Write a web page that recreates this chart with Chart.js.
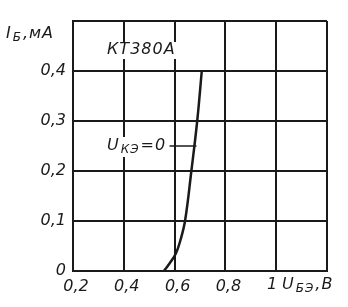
<!DOCTYPE html>
<html>
<head>
<meta charset="utf-8">
<script src="https://cdn.jsdelivr.net/npm/chart.js@4.4.0/dist/chart.umd.min.js"></script>
<style>
  html, body { margin: 0; padding: 0; background: #fff; }
  #wrap { width: 348px; height: 307px; }
</style>
</head>
<body>
<div id="wrap"><canvas id="c" width="348" height="307"></canvas></div>
<script>
// input characteristic of KT380A, U_КЭ = 0
const uBE = [0.558, 0.58, 0.605, 0.622, 0.641, 0.666, 0.689, 0.707];   // U_БЭ, V
const iB  = [0,     0.015, 0.035, 0.06,  0.1,   0.2,   0.3,   0.4];     // I_Б, mA
const xTicks = [0.2, 0.4, 0.6, 0.8, 1.0, 1.2];
const xLabels = ['0,2', '0,4', '0,6', '0,8', '1', ''];
const yTicks = [0, 0.1, 0.2, 0.3, 0.4, 0.5];
const yLabels = ['0', '0,1', '0,2', '0,3', '0,4', ''];
const markerX = [0.58, 0.686];  // the short leader from the "U_КЭ=0" note to the curve
const markerY = [0.25, 0.25];

const FONT = "'DejaVu Sans', 'Liberation Sans', sans-serif";
const INK = '#1a1a1a';

// text with a subscript: main, sub, rest
function subText(ctx, x, y, main, sub, rest, size) {
  ctx.font = `italic ${size}px ${FONT}`;
  ctx.fillText(main, x, y); x += ctx.measureText(main).width + 1;
  ctx.font = `italic ${Math.round(size * 0.78)}px ${FONT}`;
  ctx.fillText(sub, x, y + 4); x += ctx.measureText(sub).width + 1;
  ctx.font = `italic ${size}px ${FONT}`;
  ctx.fillText(rest, x, y); x += ctx.measureText(rest).width;
  return x;
}

const notes = {
  id: 'notes',
  afterDraw(chart) {
    const { ctx } = chart, xs = chart.scales.x;
    ctx.save();
    ctx.fillStyle = INK; ctx.textBaseline = 'middle'; ctx.textAlign = 'left';
    ctx.letterSpacing = '1px';
    // axis titles
    subText(ctx, 6, 34, 'I', 'Б', ',мА', 16);
    subText(ctx, 282, 285, 'U', 'БЭ', ',В', 16);
    // the "1" tick sits left of its grid line
    ctx.letterSpacing = '0px';
    ctx.font = `italic 16px ${FONT}`; ctx.textAlign = 'right';
    ctx.fillText(xLabels[4], xs.getPixelForValue(xTicks[4]) + 1, 285);
    ctx.textAlign = 'left'; ctx.letterSpacing = '1px';
    // device name, on a white patch over the grid
    ctx.font = `italic 16px ${FONT}`;
    const w = ctx.measureText('КТ380А').width;
    ctx.fillStyle = '#fff'; ctx.fillRect(106, 42, w + 4, 17);
    ctx.fillStyle = INK; ctx.fillText('КТ380А', 107, 50);
    // curve note
    ctx.fillStyle = '#fff'; ctx.fillRect(106, 137, 60, 20);
    ctx.fillStyle = INK;
    subText(ctx, 107, 146, 'U', 'КЭ', '=0', 16);
    ctx.restore();
  },
};

const setTicks = (vals) => (scale) => { scale.ticks = vals.map((v) => ({ value: v })); };

new Chart(document.getElementById('c'), {
  type: 'scatter',
  data: {
    datasets: [
      { data: uBE.map((x, i) => ({ x, y: iB[i] })), showLine: true, borderColor: INK, borderWidth: 2.5,
        pointRadius: 0, tension: 0.4 },
      { data: markerX.map((x, i) => ({ x, y: markerY[i] })), showLine: true, borderColor: INK, borderWidth: 1.5, pointRadius: 0 },
    ],
  },
  options: {
    responsive: false, animation: false,
    layout: { padding: { top: 21, right: 21, left: 0, bottom: 0 } },
    plugins: { legend: { display: false }, tooltip: { enabled: false } },
    scales: {
      x: {
        type: 'linear', min: 0.2, max: 1.2,
        afterBuildTicks: setTicks(xTicks),
        afterFit: (s) => { s.height = 36; },
        grid: { color: INK, lineWidth: 2, drawTicks: false },
        border: { color: INK, width: 2 },
        ticks: { color: INK, padding: 6, labelOffset: 3, maxRotation: 0, autoSkip: false,
          font: { family: FONT, size: 16, style: 'italic' },
          callback: (v, i) => (i === 4 ? '' : xLabels[i]) },
      },
      y: {
        type: 'linear', min: 0, max: 0.5,
        afterBuildTicks: setTicks(yTicks),
        afterFit: (s) => { s.width = 73; },
        grid: { color: INK, lineWidth: 2, drawTicks: false },
        border: { color: INK, width: 2 },
        ticks: { color: INK, padding: 7, autoSkip: false,
          font: { family: FONT, size: 16, style: 'italic' },
          callback: (v, i) => yLabels[i] },
      },
    },
  },
  plugins: [notes],
});
</script>
</body>
</html>
